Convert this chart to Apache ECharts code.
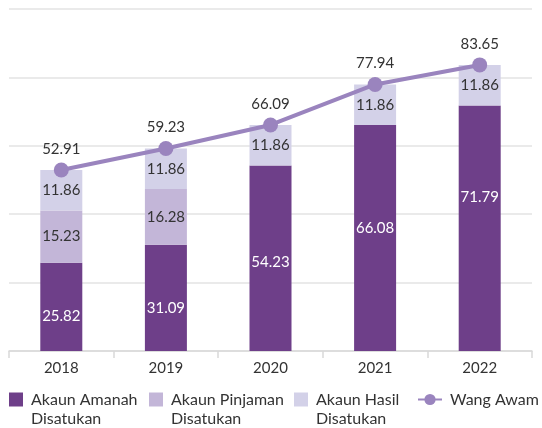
<!DOCTYPE html>
<html>
<head>
<meta charset="utf-8">
<script src="https://cdn.jsdelivr.net/npm/echarts@6/dist/echarts.min.js"></script>
<style>
  html, body { margin: 0; padding: 0; background: #fff; }
  #chart { width: 542px; height: 428px; }
</style>
</head>
<body>
<div id="chart"></div>
<script>
// data
const years = ["2018", "2019", "2020", "2021", "2022"];
const amanah = [25.82, 31.09, 54.23, 66.08, 71.79];
const pinjaman = [15.23, 16.28, null, null, null];
const hasil = [11.86, 11.86, 11.86, 11.86, 11.86];
const wangAwam = [52.91, 59.23, 66.09, 77.94, 83.65];

const names = [
  "Akaun Amanah Disatukan",
  "Akaun Pinjaman Disatukan",
  "Akaun Hasil Disatukan",
  "Wang Awam"
];

// the original places the dark-bar labels by hand, not always centred
const amanahLabelShift = [9, 10, 4, -10, -31];

const FONT = "Lato, 'Open Sans', sans-serif";
const colors = ["#6e3f89", "#c3b6d8", "#d3d1e8", "#9a84be"];

const chart = echarts.init(document.getElementById("chart"));

// one legend per item so each can be placed like the original
function legendAt(name, left, isLine) {
  return {
    data: [name],
    left: left,
    top: isLine ? 390 : 371,
    padding: 0,
    icon: isLine ? undefined : "rect",
    itemWidth: isLine ? 24 : 14,
    itemHeight: 14,
    selectedMode: false,
    // empty first line keeps the square level with the first text line
    formatter: (n) => (isLine ? n : "\n" + n.replace(" Disatukan", "\nDisatukan")),
    textStyle: {
      fontFamily: FONT,
      fontSize: 16,
      color: "#333",
      lineHeight: 19,
      padding: [0, 0, 0, 3]
    }
  };
}

const segLabel = (color) => ({
  show: true,
  position: "inside",
  fontFamily: FONT,
  fontSize: 15,
  color: color
});

chart.setOption({
  animation: false,
  grid: { left: 9, right: 10, top: 9, bottom: 77 },
  legend: [
    legendAt(names[0], 9, false),
    legendAt(names[1], 149, false),
    legendAt(names[2], 294, false),
    legendAt(names[3], 417, true)
  ],
  xAxis: {
    type: "category",
    data: years,
    axisLine: { lineStyle: { color: "#d9d9d9", width: 1.5 } },
    axisTick: { show: true, length: 7, lineStyle: { color: "#d9d9d9", width: 1.5 } },
    axisLabel: { fontFamily: FONT, fontSize: 15, color: "#333", margin: 10 }
  },
  yAxis: {
    type: "value",
    min: 0,
    max: 100,
    interval: 20,
    axisLabel: { show: false },
    axisLine: { show: false },
    axisTick: { show: false },
    splitLine: { lineStyle: { color: "#e3e3e3", width: 1.5 } }
  },
  series: [
    {
      name: names[0],
      type: "bar",
      stack: "total",
      barWidth: 42,
      data: amanah.map((v, i) => ({
        value: v,
        label: { offset: [0, amanahLabelShift[i]] }
      })),
      itemStyle: { color: colors[0] },
      label: segLabel("#fff")
    },
    {
      name: names[1],
      type: "bar",
      stack: "total",
      data: pinjaman,
      itemStyle: { color: colors[1] },
      label: segLabel("#333")
    },
    {
      name: names[2],
      type: "bar",
      stack: "total",
      data: hasil,
      itemStyle: { color: colors[2] },
      label: segLabel("#333")
    },
    {
      name: names[3],
      type: "line",
      data: wangAwam,
      symbol: "circle",
      symbolSize: 15,
      itemStyle: { color: colors[3] },
      lineStyle: { color: colors[3], width: 4 },
      label: {
        show: true,
        position: "top",
        distance: 6,
        fontFamily: FONT,
        fontSize: 15,
        color: "#333"
      }
    }
  ]
});
</script>
</body>
</html>
